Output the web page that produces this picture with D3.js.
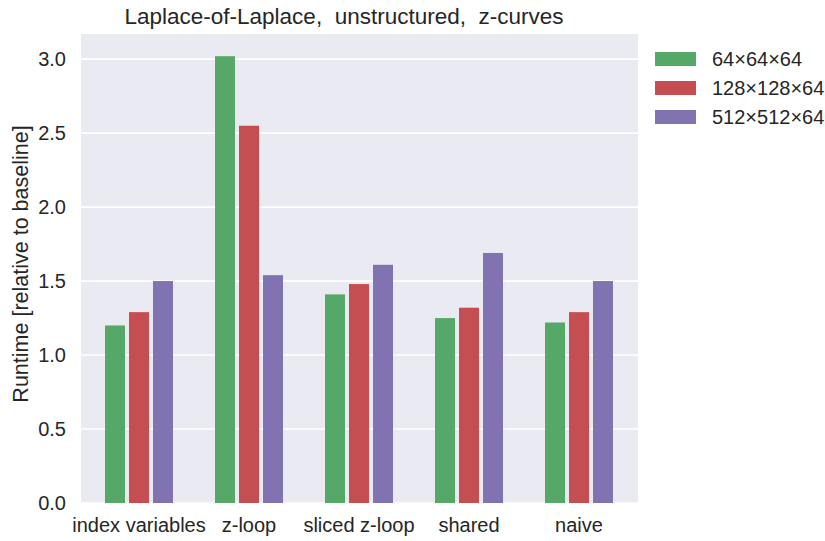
<!DOCTYPE html>
<html><head><meta charset="utf-8">
<script src="https://cdn.jsdelivr.net/npm/d3@7"></script>
<style>body{margin:0;background:#fff}svg{display:block;font-family:"Liberation Sans",Arial,sans-serif}</style>
</head><body><svg id="c" width="825" height="541"></svg>
<script>
const categories = ["index variables","z-loop","sliced z-loop","shared","naive"];
const seriesNames = ["64×64×64","128×128×64","512×512×64"];
const s64 = [1.20, 3.02, 1.41, 1.25, 1.22];
const s128 = [1.29, 2.55, 1.48, 1.32, 1.29];
const s512 = [1.50, 1.54, 1.61, 1.69, 1.50];
const yTicks = [0, 0.5, 1.0, 1.5, 2.0, 2.5, 3.0];
const colors = ["#55A868","#C44E52","#8172B2"];
const series = [s64, s128, s512];

const svg = d3.select("#c");
const L = 81, R = 638, T = 34, B = 503;
const y = d3.scaleLinear().domain([0, 3.17]).range([B, T]);
const x = d3.scaleBand().domain(categories).range([84, 634]);
const xs = d3.scaleBand().domain(d3.range(3)).range([0, 68]).paddingInner(4/24);

svg.append("rect").attr("x", L).attr("y", T).attr("width", R-L).attr("height", B-T).attr("fill", "#EAEAF2");
svg.append("g").selectAll("line").data(yTicks).join("line")
  .attr("x1", L).attr("x2", R).attr("y1", d=>y(d)).attr("y2", d=>y(d))
  .attr("stroke", "#fff").attr("stroke-width", 1.6);

series.forEach((s, si) => {
  svg.append("g").selectAll("rect").data(s).join("rect")
    .attr("x", (d,i)=> x(categories[i]) + x.bandwidth()/2 - 34 + xs(si))
    .attr("width", xs.bandwidth())
    .attr("y", d=>y(d)).attr("height", d=>B - y(d))
    .attr("fill", colors[si]);
});

const yAxis = svg.append("g").attr("transform", `translate(${L},0)`)
  .call(d3.axisLeft(y).tickValues(yTicks).tickFormat(d3.format(".1f")).tickSize(0).tickPadding(15));
yAxis.select(".domain").remove();
yAxis.selectAll("text").attr("font-size", 20).attr("fill", "#262626").style("font-family", "inherit");

const xAxis = svg.append("g").attr("transform", `translate(0,${B})`)
  .call(d3.axisBottom(x).tickSize(0).tickPadding(15));
xAxis.select(".domain").remove();
xAxis.selectAll("text").attr("font-size", 20).attr("fill", "#262626").style("font-family", "inherit");

svg.append("text").attr("x", 344).attr("y", 24).attr("text-anchor", "middle")
  .attr("font-size", 22.5).attr("fill", "#262626").style("white-space","pre")
  .text("Laplace-of-Laplace,  unstructured,  z-curves");

svg.append("text").attr("transform", `translate(28,264) rotate(-90)`).attr("text-anchor", "middle")
  .attr("font-size", 21.5).attr("fill", "#262626").text("Runtime [relative to baseline]");

const lg = svg.append("g").selectAll("g").data(seriesNames).join("g")
  .attr("transform", (d,i)=>`translate(655,${59 + i*29})`);
lg.append("rect").attr("x", 0).attr("y", -7).attr("width", 41).attr("height", 14).attr("fill", (d,i)=>colors[i]);
lg.append("text").attr("x", 57).attr("y", 7).attr("font-size", 20).attr("fill", "#262626").text(d=>d);
</script></body></html>
